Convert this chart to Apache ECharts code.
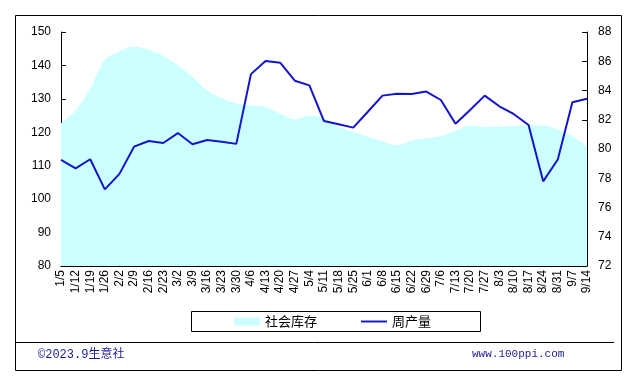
<!DOCTYPE html>
<html>
<head>
<meta charset="utf-8">
<script src="https://cdn.jsdelivr.net/npm/echarts@6/dist/echarts.min.js"></script>
<style>
html,body{margin:0;padding:0;background:#fff;}
#c{width:638px;height:386px;}
</style>
</head>
<body>
<div id="c"></div>
<script>
var categories = ['1/5','1/12','1/19','1/26','2/2','2/9','2/16','2/23','3/2','3/9','3/16','3/23','3/30','4/6','4/13','4/20','4/27','5/4','5/11','5/18','5/25','6/1','6/8','6/15','6/22','6/29','7/6','7/13','7/20','7/27','8/3','8/10','8/17','8/24','8/31','9/7','9/14'];
var stockValues = [122.7,126.5,133,141.6,144.2,145.6,144.7,142.8,140,136.6,132.5,130.2,128.7,128,127.5,125.6,123.9,124.9,124.2,121.6,120.1,118.7,117.3,116.2,117.5,118.2,118.9,120.4,122,121.6,121.7,121.9,122.1,122,120.8,118.8,115.7];
var outputValues = [79.25,78.68,79.3,77.24,78.3,80.16,80.55,80.41,81.09,80.32,80.62,80.5,80.35,85.12,86.02,85.9,84.67,84.35,81.91,81.69,81.46,82.55,83.65,83.77,83.76,83.93,83.35,81.72,82.67,83.65,82.92,82.38,81.64,77.79,79.28,83.19,83.43];
var seriesNames = ['社会库存','周产量'];
var footerLeft = '©2023.9生意社';
var footerRight = 'www.100ppi.com';

var chart = echarts.init(document.getElementById('c'), null, {renderer:'canvas'});
var numFont = 'Liberation Sans, Arial, sans-serif';
chart.setOption({
  backgroundColor:'#ffffff',
  animation:false,
  grid:{left:61, right:51, top:32, bottom:120, containLabel:false},
  legend:{
    left:229, top:310, itemWidth:26, itemHeight:8, itemGap:44,
    textStyle:{fontSize:13, color:'#000', fontFamily:'Noto Sans CJK SC, sans-serif'},
    data:[
      {name:seriesNames[0], icon:'rect'},
      {name:seriesNames[1], icon:'path://M0,0 L30,0 L30,2.2 L0,2.2 Z'}
    ]
  },
  xAxis:{
    type:'category', data:categories, boundaryGap:false,
    axisLine:{lineStyle:{color:'#000', width:1}},
    axisTick:{inside:true, length:4, lineStyle:{color:'#000'}, alignWithLabel:true},
    axisLabel:{rotate:90, interval:0, fontSize:12, color:'#000', margin:4, fontFamily:numFont},
    splitLine:{show:false}
  },
  yAxis:[
    {type:'value', min:80, max:150, interval:10, position:'left',
     axisLine:{show:true, lineStyle:{color:'#000', width:1}},
     axisTick:{show:true, inside:true, length:5, lineStyle:{color:'#000'}},
     axisLabel:{fontSize:12, color:'#000', margin:10, fontFamily:numFont},
     splitLine:{show:false}},
    {type:'value', min:72, max:88, interval:2, position:'right',
     axisLine:{show:true, lineStyle:{color:'#000', width:1}},
     axisTick:{show:true, inside:true, length:5, lineStyle:{color:'#000'}},
     axisLabel:{fontSize:12, color:'#000', margin:11, fontFamily:numFont},
     splitLine:{show:false}}
  ],
  series:[
    {name:seriesNames[0], type:'line', yAxisIndex:0, data:stockValues, smooth:0.4,
     symbol:'none', showSymbol:false, z:1,
     itemStyle:{color:'#CCFFFF'},
     lineStyle:{width:0, color:'#CCFFFF'},
     areaStyle:{color:'#CCFFFF', opacity:1, origin:'start'}},
    {name:seriesNames[1], type:'line', yAxisIndex:1, data:outputValues,
     symbol:'none', showSymbol:false, z:3,
     itemStyle:{color:'#1414C8'},
     lineStyle:{width:2, color:'#1414C8'}}
  ],
  graphic:[
    {type:'rect', shape:{x:15.5, y:15.5, width:606, height:355}, style:{fill:null, stroke:'#000', lineWidth:1}, silent:true, z:100},
    {type:'line', shape:{x1:15, y1:342.5, x2:614, y2:342.5}, style:{stroke:'#000', lineWidth:1}, silent:true, z:100},
    {type:'rect', shape:{x:191.5, y:311.5, width:289, height:20}, style:{fill:null, stroke:'#000', lineWidth:1}, silent:true, z:100},
    {type:'text', left:38, top:349, style:{text:footerLeft, fill:'#1a1a9a', font:'12px Liberation Mono, Noto Sans CJK SC, monospace'}, silent:true, z:100},
    {type:'text', left:472, top:349, style:{text:footerRight, fill:'#1a1a9a', font:'11px Liberation Mono, monospace'}, silent:true, z:100}
  ]
});
</script>
</body>
</html>
